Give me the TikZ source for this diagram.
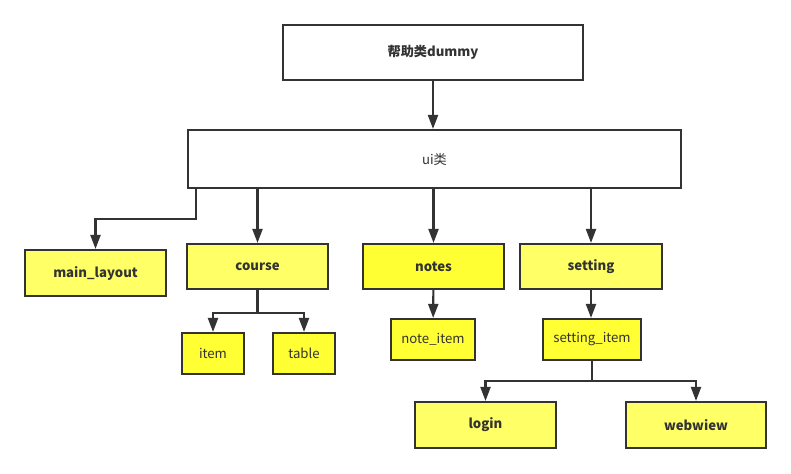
\documentclass[tikz,border=0pt]{standalone}
\usepackage{fontspec}
\setmainfont{Noto Sans CJK SC}
\usepackage{tikz}
\usetikzlibrary{arrows.meta}

\definecolor{linegray}{HTML}{333333}
\definecolor{paleyellow}{HTML}{FFFF66}
\definecolor{brightyellow}{HTML}{FFFF33}

\tikzset{
  box/.style={draw=linegray, line width=1.2pt, inner sep=0pt, font=\fontsize{7.5}{9}\selectfont, text=linegray},
  bigbox/.style={box, fill=paleyellow, minimum width=2.82cm, minimum height=0.9cm, font=\fontsize{7.5}{9}\selectfont\bfseries},
  smallbox/.style={box, fill=brightyellow, minimum height=0.82cm},
  link/.style={draw=linegray, line width=1.2pt, -{Triangle[width=0.2cm,length=0.28cm]}}
}

\begin{document}
\begin{tikzpicture}
        \useasboundingbox (0,0) rectangle (15.82,-9.46);
        \node[box, fill=white, minimum width=6cm, minimum height=1.1cm, font=\fontsize{7.5}{9}\selectfont\bfseries] at (8.66,-1.05) (dummy){帮助类dummy};
        \node[box, fill=white, minimum width=9.86cm, minimum height=1.16cm] at (8.69,-3.18) (ui){ui类};
        \node[bigbox, minimum height=0.92cm] at (1.91,-5.46) (mainlayout){main\_layout};
        \node[bigbox] at (5.15,-5.33) (course){course};
        \node[bigbox, fill=brightyellow] at (8.67,-5.33) (notes){notes};
        \node[bigbox, minimum width=2.84cm] at (11.82,-5.33) (setting){setting};
        \node[smallbox, minimum width=1.24cm] at (4.26,-7.07) (item){item};
        \node[smallbox, minimum width=1.24cm] at (6.08,-7.07) (table){table};
        \node[smallbox, minimum width=1.68cm] at (8.66,-6.79) (noteitem){note\_item};
        \node[smallbox, minimum width=1.96cm] at (11.84,-6.79) (settingitem){setting\_item};
        \node[bigbox, minimum height=0.92cm] at (9.71,-8.5) (login){login};
        \node[bigbox, minimum width=2.8cm, minimum height=0.92cm] at (13.92,-8.5) (webwiew){webwiew};
        % top level
        \draw[link] (dummy) -- (dummy |- ui.north);
        \draw[link] ([xshift=0.18cm]ui.south west) -- ++(0,-0.6) -| (mainlayout);
        \draw[link] (course |- ui.south) -- (course);
        \draw[link] (notes |- ui.south) -- (notes);
        \draw[link] (setting |- ui.south) -- (setting);
        % children
        \draw[link] (course.south) -- ++(0,-0.46) -| (item);
        \draw[link] (course.south) -- ++(0,-0.46) -| (table);
        \draw[link] (notes) -- (noteitem);
        \draw[link] (setting.south) -- (setting.south |- settingitem.north);
        \draw[link] (settingitem.south) -- ++(0,-0.4) -| (login);
        \draw[link] (settingitem.south) -- ++(0,-0.4) -| (webwiew);
\end{tikzpicture}
\end{document}
